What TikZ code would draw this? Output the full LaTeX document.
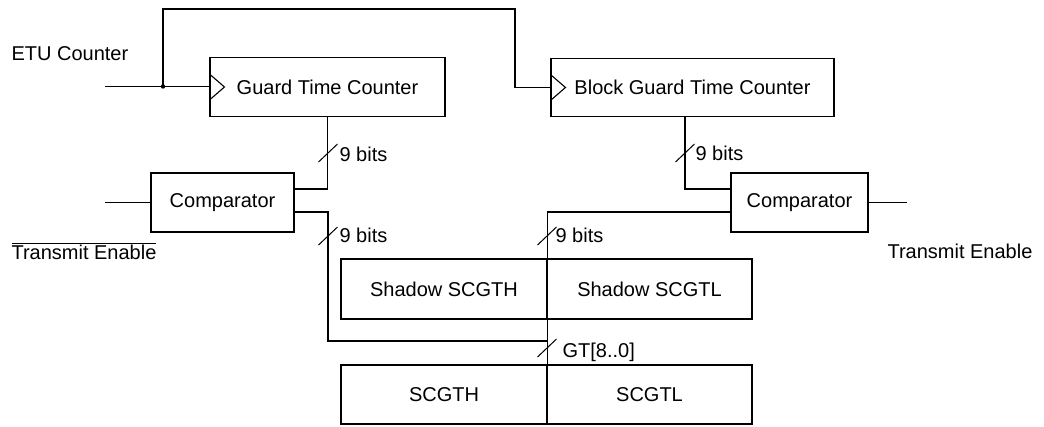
\documentclass[tikz,border=0pt]{standalone}
\usepackage{fontspec}
\setmainfont{Liberation Sans}
\begin{document}
\begin{tikzpicture}[x=1pt,y=-1pt,line width=1.1pt,
  reg/.style={draw,rectangle,inner sep=0pt,font=\fontsize{20}{22}\selectfont},
  lbl/.style={inner sep=0pt,font=\fontsize{20}{22}\selectfont},
  bus/.style={line width=1pt}]
\useasboundingbox (0,0) rectangle (1044,426);
% blocks
\node[reg,minimum width=235pt,minimum height=59pt] (gtc) at (327.5,87) {Guard Time Counter};
\node[reg,minimum width=283pt,minimum height=58pt] (bgtc) at (692.5,87.5) {Block Guard Time Counter};
\node[reg,minimum width=143pt,minimum height=59pt] (cmpl) at (222.5,202.5) {Comparator};
\node[reg,minimum width=137pt,minimum height=59pt] (cmpr) at (799.5,202.5) {Comparator};
\node[reg,minimum width=206pt,minimum height=60pt] (shh) at (444,289) {Shadow SCGTH};
\node[reg,minimum width=205pt,minimum height=60pt] (shl) at (649.5,289) {Shadow SCGTL};
\node[reg,minimum width=206pt,minimum height=59pt] (gth) at (444,394.5) {SCGTH};
\node[reg,minimum width=205pt,minimum height=59pt] (gtl) at (649.5,394.5) {SCGTL};
% clock triangles
\draw ([yshift=13pt]gtc.west) -- ++(15,13) -- ++(-15,13);
\draw ([yshift=13pt]bgtc.west) -- ++(15,13) -- ++(-15,13);
% labels
\node[lbl,anchor=base west] (etu) at (11,60) {ETU Counter};
\node[lbl,anchor=base west] (tel) at (11,259) {$\overline{\mbox{Transmit Enable}}$};
\node[lbl,anchor=base west] (ter) at (887,258) {Transmit Enable};
\node[lbl,anchor=base west] (b1) at (339,161) {9 bits};
\node[lbl,anchor=base west] (b2) at (339,242) {9 bits};
\node[lbl,anchor=base west] (b3) at (695,160) {9 bits};
\node[lbl,anchor=base west] (b4) at (555,242) {9 bits};
\node[lbl,anchor=base west] (gt) at (562,357) {GT[8..0]};
% clock wiring
\coordinate (etuin) at (105,86.5);
\coordinate (tap) at (163,86.5);
\coordinate (top1) at (163,9);
\coordinate (top2) at (515,9);
\draw (etuin) -- (tap) -- (gtc.west |- tap);
\draw (tap) -- (top1) -- (top2) |- (bgtc.west);
\fill (tap) circle (2.2pt);
% comparator wiring
\coordinate (cmplin) at (105,202.5);
\coordinate (cmprout) at (907,202.5);
\draw (cmplin) -- (cmpl.west);
\draw (cmpr.east) -- (cmprout);
\draw (gtc.south) |- ([yshift=13.5pt]cmpl.east);
\coordinate (bend) at (328,341);
\coordinate (join) at (547,341);
\draw ([yshift=-9.5pt]cmpl.east) -| (bend) -- (join);
\draw ([xshift=-7.5pt]bgtc.south) |- ([yshift=13.5pt]cmpr.west);
\draw ([yshift=-9.5pt]cmpr.west) -| (gth.south east);
% bus slashes
\draw[bus] (318.5,162) -- (337.5,144);
\draw[bus] (318.5,245) -- (337.5,227);
\draw[bus] (675.5,162) -- (694.5,144);
\draw[bus] (537.5,245) -- (556.5,227);
\draw[bus] (537.5,357) -- (556.5,339);
\end{tikzpicture}
\end{document}
